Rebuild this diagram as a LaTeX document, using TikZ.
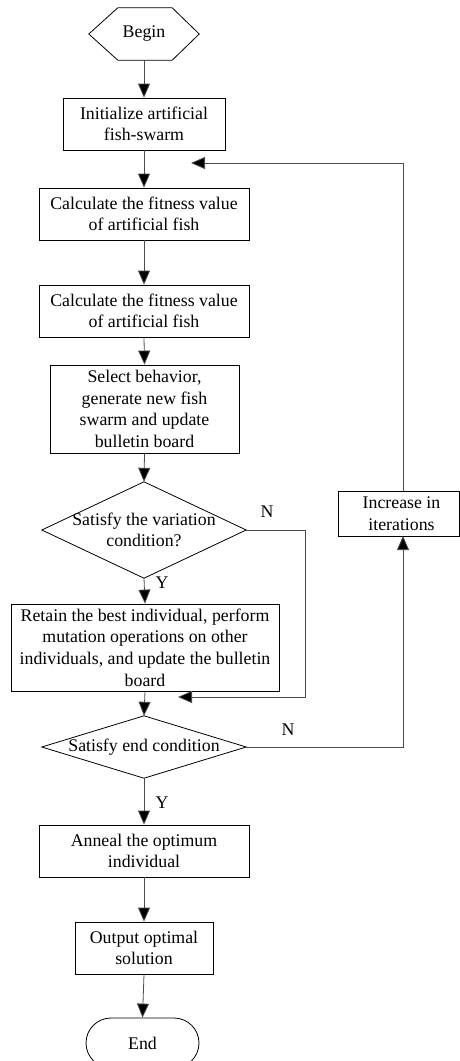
\documentclass[tikz,border=0pt]{standalone}
\usepackage{fontspec}
\setmainfont{Liberation Serif}
\usetikzlibrary{arrows.meta,shapes.misc}
\begin{document}
\begin{tikzpicture}[x=1pt,y=-1pt,
  font=\fontsize{17.8}{21.6}\selectfont,
  stepbox/.style={draw=black,line width=0.8pt,inner sep=0pt,align=center},
  ghost/.style={inner sep=0pt,align=center},
  conn/.style={draw=black!70,line width=0.8pt,-{Triangle[length=14pt,width=12pt,fill=black]}},
  shapeline/.style={draw=black,line width=0.8pt,line join=miter}]
\useasboundingbox (0,0) rectangle (460,1061);
\clip (0,0) rectangle (460,1061);

\node[ghost,minimum width=110pt,minimum height=52pt] (begin) at (144,34) {Begin};
\draw[shapeline] (begin.west) -- ([xshift=29pt]begin.north west) -- ([xshift=-27pt]begin.north east)
  -- (begin.east) -- ([xshift=-27pt]begin.south east) -- ([xshift=29pt]begin.south west) -- cycle;

\node[stepbox,minimum width=162pt,minimum height=52pt] (init) at (144,124) {Initialize artificial\\fish-swarm};
\node[stepbox,minimum width=210pt,minimum height=52pt] (calc1) at (144,214) {Calculate the fitness value\\of artificial fish};
\node[stepbox,minimum width=210pt,minimum height=52pt] (calc2) at (144,311) {Calculate the fitness value\\of artificial fish};
\node[stepbox,minimum width=189pt,minimum height=88pt] (sel) at (144.5,409) {Select behavior,\\generate new fish\\swarm and update\\bulletin board};

\node[ghost,minimum width=204pt,minimum height=96pt] (d1) at (144,530) {Satisfy the variation\\condition?};
\draw[shapeline] (d1.north) -- (d1.east) -- (d1.south) -- (d1.west) -- cycle;

\node[stepbox,minimum width=268pt,minimum height=87pt] (ret) at (145,647.5) {Retain the best individual, perform\\mutation operations on other\\individuals, and update the bulletin\\board};

\node[ghost,minimum width=204pt,minimum height=62pt] (d2) at (144,747) {Satisfy end condition};
\draw[shapeline] (d2.north) -- (d2.east) -- (d2.south) -- (d2.west) -- cycle;

\node[stepbox,minimum width=121pt,minimum height=45pt] (inc) at (398.5,513.5) {\hspace*{6pt}Increase in\\\hspace*{6pt}iterations};

\node[stepbox,minimum width=210pt,minimum height=52pt] (ann) at (144,851) {Anneal the optimum\\individual};
\node[stepbox,minimum width=138pt,minimum height=52pt] (out) at (144,948) {Output optimal\\solution};
\node[draw=black,line width=0.8pt,rounded rectangle,inner sep=0pt,minimum width=113pt,minimum height=50pt] (end) at (142.5,1043) {End};

\coordinate (m1) at (178,697);
\coordinate (incb) at (403,536);
\coordinate (inct) at (403,491);
\coordinate (m2) at (191,163);

\draw[conn] (begin.south) -- (init.north);
\draw[conn] (init.south) -- (calc1.north);
\draw[conn] (calc1.south) -- (calc2.north);
\draw[conn] (calc2.south) -- (sel.north);
\draw[conn] (sel.south) -- (d1.north);
\draw[conn] (d1.south) -- (ret.north);
\draw[conn] (ret.south) -- (d2.north);
\draw[conn] (d2.south) -- (ann.north);
\draw[conn] (ann.south) -- (out.north);
\draw[conn] (out.south) -- (end.north);
\draw[conn] (d1.east) -- (305,530) -- (305,697) -- (m1);
\draw[conn] (d2.east) -- (403,747) -- (incb);
\draw[conn] (inct) -- (403,163) -- (m2);

\node[ghost] (y1) at (162,583) {Y};
\node[ghost] (y2) at (162,803) {Y};
\node[ghost] (n1) at (267,512) {N};
\node[ghost] (n2) at (288,730) {N};
\end{tikzpicture}
\end{document}
